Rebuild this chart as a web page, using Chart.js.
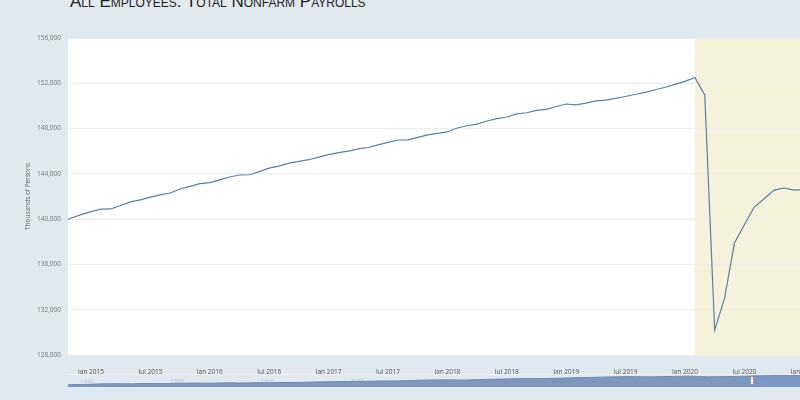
<!DOCTYPE html>
<html>
<head>
<meta charset="utf-8">
<script src="https://cdn.jsdelivr.net/npm/chart.js@4"></script>
<style>
  html, body { margin: 0; padding: 0; background: #e1e9f0; overflow: hidden; }
  #wrap { position: relative; width: 800px; height: 400px; overflow: hidden; }
  #title {
    position: absolute; left: 70px; top: -8px; margin: 0;
    font: 17px "Liberation Sans", Arial, sans-serif; font-variant: small-caps;
    color: #222; white-space: nowrap;
  }
  #main { position: absolute; left: 0; top: 0; }
  #nav { position: absolute; left: 0; top: 374px; }
</style>
</head>
<body>
<div id="wrap">
  <div id="title">All Employees: Total Nonfarm Payrolls</div>
  <canvas id="main" width="830" height="374"></canvas>
  <canvas id="nav" width="830" height="14"></canvas>
</div>
<script>
// monthly payrolls (thousands), Oct 2014 .. Jan 2021; month 0 = Jan 2015
const firstMonth = -3;
const payrolls = [
  139800, 140100, 140400,
  140660, 140880, 140900, 141200, 141520, 141700, 141950, 142150, 142310, 142660, 142900, 143130,
  143220, 143470, 143720, 143900, 143920, 144200, 144500, 144690, 144950, 145100, 145250, 145480,
  145700, 145870, 146010, 146200, 146330, 146560, 146780, 146990, 147000, 147220, 147440, 147570,
  147700, 148050, 148250, 148400, 148670, 148880, 149020, 149300, 149400, 149600, 149700, 149950,
  150170, 150090, 150250, 150440, 150510, 150660, 150830, 151030, 151200, 151430, 151650, 151900,
  152170, 152520, 150970, 130200, 133030, 137890, 139500, 141070, 141800, 142570, 142750, 142570,
  142600
];
const tickMonths = [0, 6, 12, 18, 24, 30, 36, 42, 48, 54, 60, 66, 72];
const tickLabels = ['Jan 2015', 'Jul 2015', 'Jan 2016', 'Jul 2016', 'Jan 2017', 'Jul 2017', 'Jan 2018',
  'Jul 2018', 'Jan 2019', 'Jul 2019', 'Jan 2020', 'Jul 2020', 'Jan 2021'];
const recession = [61, 80]; // Feb 2020 onward

// navigator: long history (decimal year, thousands)
const navYears = [1939, 1940, 1941, 1942, 1943, 1944, 1945, 1946, 1947, 1948, 1949, 1950, 1951, 1952, 1953,
  1954, 1955, 1956, 1957, 1958, 1959, 1960, 1961, 1962, 1963, 1964, 1965, 1966, 1967, 1968, 1969, 1970,
  1971, 1972, 1973, 1974, 1975, 1976, 1977, 1978, 1979, 1980, 1981, 1982, 1983, 1984, 1985, 1986, 1987,
  1988, 1989, 1990, 1991, 1992, 1993, 1994, 1995, 1996, 1997, 1998, 1999, 2000, 2001, 2002, 2003, 2004,
  2005, 2006, 2007, 2008, 2009, 2010, 2011, 2012, 2013, 2014, 2015, 2016, 2017, 2018, 2019, 2020,
  2020.08, 2020.25, 2021];
const navValues = [29900, 31000, 33500, 37000, 41000, 41500, 41600, 40000, 43500, 44700, 43800, 43500,
  47300, 47900, 50100, 48800, 49300, 51800, 52600, 51300, 52500, 54300, 53300, 55000, 56000, 57500,
  59600, 62500, 65400, 66900, 69400, 70900, 70600, 72500, 75600, 78000, 77000, 79400, 82500, 86700,
  89900, 90800, 91000, 89600, 88800, 92500, 96300, 98700, 100700, 103700, 107000, 109200, 108300,
  108400, 110800, 113400, 117300, 119600, 122500, 125700, 128800, 131000, 132500, 130500, 130000,
  130400, 132500, 135000, 137200, 138400, 134000, 129800, 130800, 132900, 135000, 137600, 140600,
  143200, 145700, 147700, 150200, 152200, 152500, 130200, 142700];
const navLabelYears = [1940, 1950, 1960, 1970, 1980, 1990, 2000, 2010];
const navSelection = [2014.75, 2021];

const points = payrolls.map((v, i) => ({ x: firstMonth + i, y: v }));

const plotBg = {
  id: 'plotBg',
  beforeDraw(chart) {
    const { ctx, chartArea: a, scales: { x } } = chart;
    ctx.save();
    ctx.fillStyle = '#ffffff';
    ctx.fillRect(a.left, a.top, a.right - a.left, a.bottom - a.top);
    const x0 = Math.max(a.left, x.getPixelForValue(recession[0]));
    const x1 = Math.min(a.right, x.getPixelForValue(recession[1]));
    ctx.fillStyle = '#f4f2da';
    ctx.fillRect(x0, a.top, x1 - x0, a.bottom - a.top);
    ctx.restore();
  }
};

new Chart(document.getElementById('main'), {
  type: 'line',
  data: {
    datasets: [{
      data: points,
      borderColor: '#5a7ea9',
      borderWidth: 1.2,
      pointRadius: 0,
      tension: 0,
      fill: false
    }]
  },
  options: {
    responsive: false,
    animation: false,
    layout: { padding: { top: 38, right: 0, left: 0, bottom: 0 } },
    plugins: { legend: { display: false }, tooltip: { enabled: false } },
    scales: {
      x: {
        type: 'linear',
        min: -2.323,
        max: 74.65,
        afterBuildTicks: s => { s.ticks = tickMonths.map(v => ({ value: v })); },
        afterFit: s => { s.height = 19; },
        ticks: {
          autoSkip: false,
          maxRotation: 0,
          padding: 5,
          color: '#555',
          font: { family: 'Open Sans', size: 6.5 },
          callback: v => tickLabels[tickMonths.indexOf(v)]
        },
        grid: { display: false },
        border: { display: false }
      },
      y: {
        min: 128000,
        max: 156000,
        afterFit: s => { s.width = 68; },
        ticks: {
          stepSize: 4000,
          padding: 7,
          color: '#777',
          font: { family: 'Open Sans', size: 6.5 }
        },
        grid: { color: '#ececec', drawTicks: false, lineWidth: 1 },
        border: { display: false },
        title: {
          display: true,
          text: 'Thousands of Persons',
          color: '#666',
          font: { family: 'Open Sans', size: 6.5 },
          padding: { top: 24, bottom: 0 }
        }
      }
    }
  },
  plugins: [plotBg]
});

const navDeco = {
  id: 'navDeco',
  beforeDraw(chart) {
    const { ctx } = chart;
    ctx.save();
    ctx.strokeStyle = '#eef2f6';
    ctx.beginPath();
    ctx.moveTo(68, 0.5);
    ctx.lineTo(chart.width, 0.5);
    ctx.stroke();
    ctx.restore();
  },
  afterDatasetsDraw(chart) {
    const { ctx, chartArea: a, scales: { x } } = chart;
    ctx.save();
    const s0 = x.getPixelForValue(navSelection[0]);
    const s1 = x.getPixelForValue(navSelection[1]);
    ctx.fillStyle = 'rgba(120,150,205,0.35)';
    ctx.fillRect(s0, a.top, s1 - s0, a.bottom - a.top);
    ctx.fillStyle = 'rgba(150,160,175,0.55)';
    ctx.font = '6px "Open Sans"';
    ctx.textBaseline = 'middle';
    navLabelYears.forEach(yr => {
      ctx.fillText(String(yr), x.getPixelForValue(yr) + 3, 7);
    });
    ctx.fillStyle = '#f2f2f2';
    ctx.strokeStyle = '#999';
    ctx.lineWidth = 1;
    ctx.fillRect(Math.round(s0) - 1.5, 2.5, 3, 8);
    ctx.strokeRect(Math.round(s0) - 1.5, 2.5, 3, 8);
    ctx.restore();
  }
};

new Chart(document.getElementById('nav'), {
  type: 'line',
  data: {
    datasets: [{
      data: navYears.map((yr, i) => ({ x: yr, y: navValues[i] })),
      borderColor: '#6f8ab5',
      borderWidth: 1,
      backgroundColor: '#7e97bd',
      fill: 'origin',
      pointRadius: 0,
      tension: 0
    }]
  },
  options: {
    responsive: false,
    animation: false,
    layout: { padding: { left: 68, right: 22, top: 1, bottom: 1 } },
    plugins: { legend: { display: false }, tooltip: { enabled: false } },
    scales: {
      x: { type: 'linear', min: 1939, max: 2021, display: false },
      y: { min: 0, max: 153000, display: false }
    }
  },
  plugins: [navDeco]
});
</script>
</body>
</html>
